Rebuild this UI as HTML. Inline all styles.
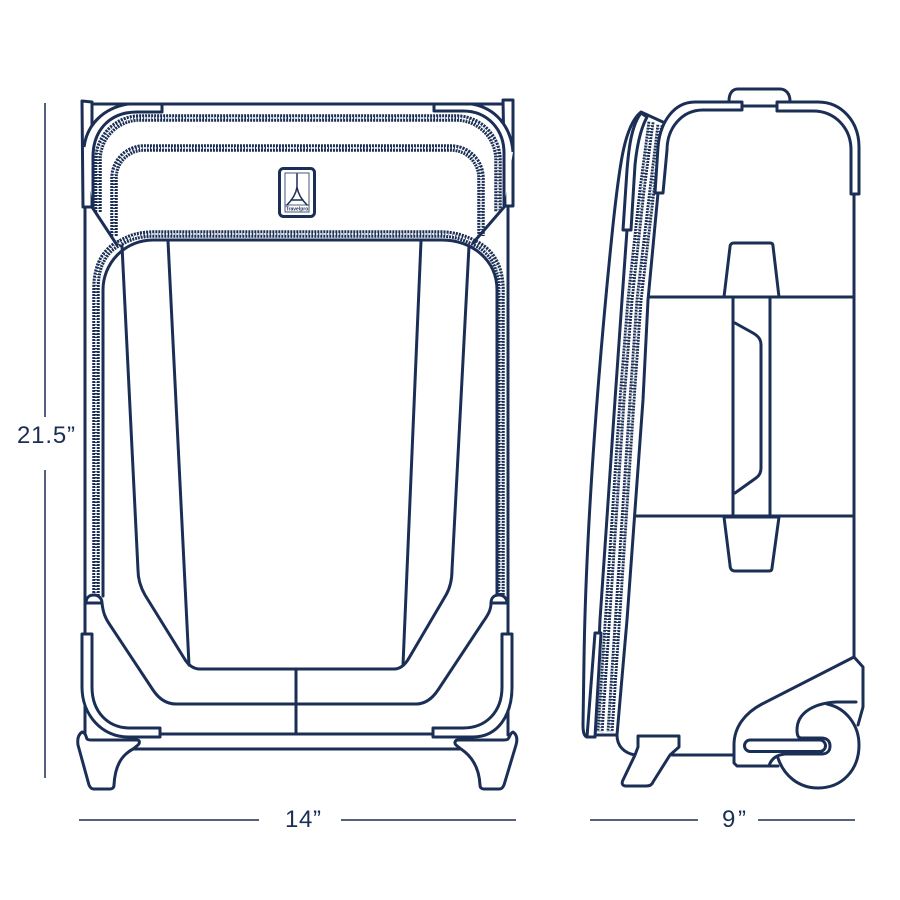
<!DOCTYPE html>
<html lang="en"><head><meta charset="utf-8"><title>Luggage dimensions</title>
<style>
html,body{margin:0;padding:0;background:#fff;width:900px;height:900px;overflow:hidden}
svg{display:block}
.l{fill:none;stroke:#1b2f56;stroke-width:3;stroke-linejoin:round;stroke-linecap:round}
.w{fill:#fff;stroke:#1b2f56;stroke-width:3;stroke-linejoin:round}
.d{fill:none;stroke:#1b2f56;stroke-width:1.5}
.z{fill:none;stroke:#1b2f56;stroke-width:7.500;stroke-dasharray:2 1}
.zi{fill:none;stroke:#fff;stroke-width:1.500;stroke-dasharray:2 1.500}
text{font-family:"Liberation Sans",sans-serif;fill:#1b2f56}
</style></head><body>
<svg width="900" height="900" viewBox="0 0 900 900" xmlns="http://www.w3.org/2000/svg">
<!-- dimension lines -->
<path class="d" d="M45 103V417M45 470V778M79 820H259M341 820H516M590 820H698M758 820H855"/>
<text x="17" y="443" font-size="24" textLength="58" lengthAdjust="spacing">21.5”</text>
<text x="285" y="827" font-size="24" textLength="36" lengthAdjust="spacing">14”</text>
<text x="722" y="827" font-size="24" textLength="24" lengthAdjust="spacing">9”</text>

<!-- FRONT VIEW -->
<path class="l" d="M85 207V735M508 207V735M90 104H503"/>
<!-- zippers -->
<path class="z" d="M98 212V160A42 42 0 0 1 140 118H456A42 42 0 0 1 498 160V212"/>
<path class="zi" d="M98 212V160A42 42 0 0 1 140 118H456A42 42 0 0 1 498 160V212"/>
<path class="z" d="M114 236V178A30 30 0 0 1 144 148H451A30 30 0 0 1 481 178V236"/>
<path class="zi" d="M114 236V178A30 30 0 0 1 144 148H451A30 30 0 0 1 481 178V236"/>
<path class="z" d="M96 596V288C96 262 108 248 120 243C130 237 140 234 155 234H440C455 234 465 238 475 243C490 250 501 265 501 290V596"/>
<path class="zi" d="M96 596V288C96 262 108 248 120 243C130 237 140 234 155 234H440C455 234 465 238 475 243C490 250 501 265 501 290V596"/>
<!-- body panel -->
<path class="l" d="M92 207L117 245M505 206L473 243"/>
<path class="l" d="M103 596V290A50 50 0 0 1 153 240H442C472 240 497 260 497 290V596"/>
<path class="l" d="M102 603C103 612 105 618 110 625L153 690C159 699 167 704 176 704H416C425 704 432 699 438 690L483 622C488 615 491 610 491 603"/>
<path class="l" d="M122 246L138 570C138 580 141 588 145 595L184 658C188 665 193 669 200 669H394C400 669 405 665 409 658L446 595C450 588 452 580 452 570L469 246"/>
<path class="l" d="M168 241L189 665M421 241L403 665M296 669V734"/>
<path class="w" d="M86 603C86 597 90 595 94 595C98 595 102 598 102 603Z"/>
<path class="w" d="M491 603C491 597 495 595 499 595C503 595 507 598 507 603Z"/>
<!-- top corner brackets -->
<path class="w" d="M82 101L92 102V207H83Z"/>
<path class="w" d="M503 100H513V206H505Z"/>
<path class="w" d="M84 147C87 124 104 108 128 104H162V112H137C110 112 93 130 93 157V207" />
<path class="w" d="M513 152C511 126 495 108 472 104H434V111H463C488 111 504 130 504 153V206"/>
<!-- logo -->
<rect x="279.500" y="168.500" width="35" height="48" rx="4" fill="#fff" stroke="#1b2f56" stroke-width="3"/>
<rect x="285" y="173" width="24" height="39" fill="none" stroke="#1b2f56" stroke-width=".8"/>
<path d="M285 205H309" stroke="#1b2f56" stroke-width=".8"/>
<path class="l" style="stroke-width:1.500" d="M297 174V187C296 194 292 200 287 205M297 174V187C298 194 302 200 307 205M291 200H303"/>
<text x="297" y="210.500" font-size="5" text-anchor="middle" font-family="Liberation Serif" font-weight="bold">Travelpro</text>
<!-- bottom -->
<path class="l" d="M160 734H433M133 749H460"/>
<path class="w" d="M82 634H92V687C92 712 108 728 130 728H160V737H128C102 737 82 715 82 687Z"/>
<path class="w" d="M502 634H512V687C512 715 498 737 473 737H433V728H463C486 728 502 712 502 687Z"/>
<path class="w" d="M82 732C86 733 86 737 87 739C88 740 90 740 92 740H137C140 740 140 743 138 745L133 749C122 755 115 765 114 785C114 788 112 789 110 789H94C91 789 90 787 89 785L78 745C77 738 79 734 82 732Z"/>
<path class="w" d="M513 732C510 733 510 737 508 739C507 740 505 740 503 740H458C455 740 454 743 456 745L461 749C470 755 479 765 480 785C480 788 482 789 484 789H499C502 789 503 787 504 785L516 745C518 738 516 734 513 732Z"/>

<!-- SIDE VIEW -->
<path class="l" d="M729 101C729 94 732 89 738 89H780C786 89 790 94 790 101"/>
<path class="l" d="M742 106H777"/>
<path class="l" d="M854 194V657M650 297H854M636 516H854"/>
<!-- zipper band -->
<path class="l" d="M658 193L648 300L643 400L627 620L617 735"/>
<path class="z" style="stroke-width:7" d="M660 125L652 190L639 300L632 400L610 732"/>
<path class="z" style="stroke-width:7" d="M651 122L642 190L630 300L622 400L600 732"/>
<path class="zi" d="M660 125L652 190L639 300L632 400L610 732"/>
<path class="zi" d="M651 122L642 190L630 300L622 400L600 732"/>
<path class="l" d="M627 230L622 300L615 400L600 620L595 735"/>
<path class="l" d="M665 123L641 112C625 125 620 160 613 225C600 350 586 520 584 660L583 725C583 732 584 736 587 737H595"/>
<path class="l" d="M595 735H617C617 746 624 753 635 755"/>
<path class="w" d="M641 113C632 125 629 145 627 170L623 230H631L635 165C637 145 641 128 647 117Z"/>
<path class="w" d="M595 633H601L595 737H587Z"/>
<!-- top brackets -->
<path class="w" d="M742 102V110H703C682 110 667 128 667 150L663 193H655L658 147C660 122 674 102 695 102Z"/>
<path class="w" d="M777 102V111H813C835 111 851 128 851 150V194H859V147C859 122 842 102 818 102Z"/>
<!-- handle -->
<path class="l" d="M724 297L730 247C730 244 732 243 734 243H770C772 243 773 244 773 246L779 297Z"/>
<path class="l" d="M724 517L730 565C730 569 732 571 735 571H769C771 571 772 570 772 568L779 517Z"/>
<path class="l" d="M733 297V516M770 297V516"/>
<path class="l" d="M735 323L753 333C758 336 761 339 761 345V468C761 473 759 476 756 478L735 493"/>
<!-- bottom -->
<path class="l" d="M672 755H733"/>
<path class="w" d="M638 736H679V747L670 755L653 782C652 785 649 786 646 786H626C623 786 621 784 623 780L635 755L638 747Z"/>
<!-- wheel housing -->
<path class="l" d="M854 657L863 667V707L858 725"/>
<path class="l" d="M854 657L762 704C745 713 734 727 734 745V763L737 766H778"/>
<path class="l" d="M856 702H837C815 703 797 712 797 730C797 735 798 738 801 738H821C827 738 830 741 830 746C830 751 827 754 822 754H785C776 755 771 759 769 766"/>
<path class="l" d="M827 704C846 708 859 725 859 745C859 770 842 788 818 788C799 788 784 776 778 758"/>
<rect x="744.500" y="740" width="81" height="11.500" rx="5.700" fill="#fff" stroke="#1b2f56" stroke-width="3"/>
</svg>
</body></html>
